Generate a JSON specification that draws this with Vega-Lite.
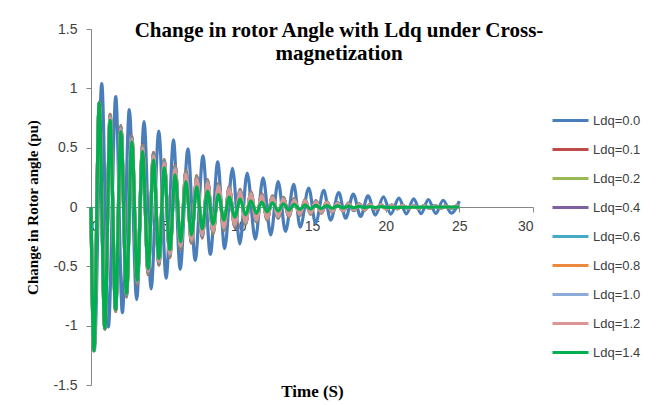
{
"$schema":"https://vega.github.io/schema/vega-lite/v6.json",
"width":442,"height":356,
"autosize":{"type":"none"},
"padding":{"left":91,"top":29,"right":136,"bottom":20},
"background":"white",
"title":{"text":["Change in rotor Angle with Ldq under Cross-","magnetization"],"font":"Liberation Serif","fontSize":21,"fontWeight":"bold","color":"#000000","anchor":"middle","dx":27,"dy":50,"baseline":"top","offset":8,"lineHeight":23},
"config":{"view":{"stroke":null},"axis":{"domainColor":"#868686","tickColor":"#868686","grid":false,"labelFont":"Liberation Sans","labelFontSize":14,"labelColor":"#404040"}},
"data":{"values":[
{"s":"Ldq=0.0","t":0,"v":0},{"s":"Ldq=0.0","t":0.22,"v":-1.21},{"s":"Ldq=0.0","t":0.73,"v":1.04},{"s":"Ldq=0.0","t":1.18,"v":-1.01},{"s":"Ldq=0.0","t":1.68,"v":0.93},{"s":"Ldq=0.0","t":2.13,"v":-0.89},{"s":"Ldq=0.0","t":2.6,"v":0.82},{"s":"Ldq=0.0","t":3.1,"v":-0.78},{"s":"Ldq=0.0","t":3.6,"v":0.72},{"s":"Ldq=0.0","t":4.08,"v":-0.69},{"s":"Ldq=0.0","t":4.6,"v":0.64},{"s":"Ldq=0.0","t":5.1,"v":-0.6},{"s":"Ldq=0.0","t":5.6,"v":0.565},{"s":"Ldq=0.0","t":6.05,"v":-0.525},{"s":"Ldq=0.0","t":6.58,"v":0.49},{"s":"Ldq=0.0","t":7.07,"v":-0.45},{"s":"Ldq=0.0","t":7.6,"v":0.43},{"s":"Ldq=0.0","t":8.1,"v":-0.4},{"s":"Ldq=0.0","t":8.6,"v":0.38},{"s":"Ldq=0.0","t":9.07,"v":-0.35},{"s":"Ldq=0.0","t":9.6,"v":0.325},{"s":"Ldq=0.0","t":10.1,"v":-0.31},{"s":"Ldq=0.0","t":10.6,"v":0.285},{"s":"Ldq=0.0","t":11.15,"v":-0.27},{"s":"Ldq=0.0","t":11.68,"v":0.245},{"s":"Ldq=0.0","t":12.2,"v":-0.235},{"s":"Ldq=0.0","t":12.7,"v":0.215},{"s":"Ldq=0.0","t":13.2,"v":-0.205},{"s":"Ldq=0.0","t":13.76,"v":0.19},{"s":"Ldq=0.0","t":14.2,"v":-0.17},{"s":"Ldq=0.0","t":14.78,"v":0.16},{"s":"Ldq=0.0","t":15.24,"v":-0.135},{"s":"Ldq=0.0","t":15.8,"v":0.14},{"s":"Ldq=0.0","t":16.26,"v":-0.11},{"s":"Ldq=0.0","t":16.82,"v":0.122},{"s":"Ldq=0.0","t":17.28,"v":-0.095},{"s":"Ldq=0.0","t":17.8,"v":0.108},{"s":"Ldq=0.0","t":18.3,"v":-0.08},{"s":"Ldq=0.0","t":18.8,"v":0.095},{"s":"Ldq=0.0","t":19.3,"v":-0.068},{"s":"Ldq=0.0","t":19.85,"v":0.085},{"s":"Ldq=0.0","t":20.35,"v":-0.06},{"s":"Ldq=0.0","t":20.9,"v":0.075},{"s":"Ldq=0.0","t":21.4,"v":-0.058},{"s":"Ldq=0.0","t":21.9,"v":0.068},{"s":"Ldq=0.0","t":22.4,"v":-0.056},{"s":"Ldq=0.0","t":22.9,"v":0.062},{"s":"Ldq=0.0","t":23.4,"v":-0.054},{"s":"Ldq=0.0","t":23.9,"v":0.057},{"s":"Ldq=0.0","t":24.45,"v":-0.052},{"s":"Ldq=0.0","t":25,"v":0.05},
{"s":"Ldq=0.1","t":0,"v":0},{"s":"Ldq=0.1","t":0.2,"v":-1.21},{"s":"Ldq=0.1","t":0.56,"v":0.88},{"s":"Ldq=0.1","t":0.94,"v":-1.03},{"s":"Ldq=0.1","t":1.3,"v":0.78},{"s":"Ldq=0.1","t":1.67,"v":-0.88},{"s":"Ldq=0.1","t":2.03,"v":0.685},{"s":"Ldq=0.1","t":2.41,"v":-0.76},{"s":"Ldq=0.1","t":2.77,"v":0.6},{"s":"Ldq=0.1","t":3.14,"v":-0.655},{"s":"Ldq=0.1","t":3.5,"v":0.525},{"s":"Ldq=0.1","t":3.88,"v":-0.57},{"s":"Ldq=0.1","t":4.24,"v":0.46},{"s":"Ldq=0.1","t":4.61,"v":-0.49},{"s":"Ldq=0.1","t":4.97,"v":0.4},{"s":"Ldq=0.1","t":5.35,"v":-0.425},{"s":"Ldq=0.1","t":5.71,"v":0.35},{"s":"Ldq=0.1","t":6.08,"v":-0.355},{"s":"Ldq=0.1","t":6.44,"v":0.305},{"s":"Ldq=0.1","t":6.82,"v":-0.305},{"s":"Ldq=0.1","t":7.18,"v":0.265},{"s":"Ldq=0.1","t":7.55,"v":-0.262},{"s":"Ldq=0.1","t":7.91,"v":0.23},{"s":"Ldq=0.1","t":8.29,"v":-0.227},{"s":"Ldq=0.1","t":8.65,"v":0.2},{"s":"Ldq=0.1","t":9.02,"v":-0.197},{"s":"Ldq=0.1","t":9.38,"v":0.172},{"s":"Ldq=0.1","t":9.76,"v":-0.17},{"s":"Ldq=0.1","t":10.12,"v":0.148},{"s":"Ldq=0.1","t":10.49,"v":-0.147},{"s":"Ldq=0.1","t":10.85,"v":0.128},{"s":"Ldq=0.1","t":11.23,"v":-0.127},{"s":"Ldq=0.1","t":11.59,"v":0.11},{"s":"Ldq=0.1","t":11.96,"v":-0.11},{"s":"Ldq=0.1","t":12.32,"v":0.095},{"s":"Ldq=0.1","t":12.7,"v":-0.095},{"s":"Ldq=0.1","t":13.06,"v":0.082},{"s":"Ldq=0.1","t":13.43,"v":-0.082},{"s":"Ldq=0.1","t":13.79,"v":0.071},{"s":"Ldq=0.1","t":14.17,"v":-0.071},{"s":"Ldq=0.1","t":14.53,"v":0.062},{"s":"Ldq=0.1","t":14.9,"v":-0.061},{"s":"Ldq=0.1","t":15.26,"v":0.053},{"s":"Ldq=0.1","t":15.64,"v":-0.052},{"s":"Ldq=0.1","t":16.0,"v":0.045},{"s":"Ldq=0.1","t":16.37,"v":-0.044},{"s":"Ldq=0.1","t":16.73,"v":0.038},{"s":"Ldq=0.1","t":17.11,"v":-0.037},{"s":"Ldq=0.1","t":17.47,"v":0.032},{"s":"Ldq=0.1","t":17.84,"v":-0.031},{"s":"Ldq=0.1","t":18.2,"v":0.027},{"s":"Ldq=0.1","t":18.58,"v":-0.026},{"s":"Ldq=0.1","t":18.94,"v":0.023},{"s":"Ldq=0.1","t":19.31,"v":-0.022},{"s":"Ldq=0.1","t":19.67,"v":0.02},{"s":"Ldq=0.1","t":20.05,"v":-0.019},{"s":"Ldq=0.1","t":20.41,"v":0.017},{"s":"Ldq=0.1","t":20.78,"v":-0.016},{"s":"Ldq=0.1","t":21.14,"v":0.015},{"s":"Ldq=0.1","t":21.52,"v":-0.014},{"s":"Ldq=0.1","t":21.88,"v":0.013},{"s":"Ldq=0.1","t":22.25,"v":-0.012},{"s":"Ldq=0.1","t":22.61,"v":0.011},{"s":"Ldq=0.1","t":22.99,"v":-0.011},{"s":"Ldq=0.1","t":23.35,"v":0.01},{"s":"Ldq=0.1","t":23.72,"v":-0.01},{"s":"Ldq=0.1","t":24.08,"v":0.009},{"s":"Ldq=0.1","t":24.46,"v":-0.009},{"s":"Ldq=0.1","t":24.82,"v":0.008},{"s":"Ldq=0.1","t":25,"v":0.004},
{"s":"Ldq=0.2","t":0,"v":0},{"s":"Ldq=0.2","t":0.2,"v":-1.21},{"s":"Ldq=0.2","t":0.56,"v":0.878},{"s":"Ldq=0.2","t":0.94,"v":-1.027},{"s":"Ldq=0.2","t":1.3,"v":0.774},{"s":"Ldq=0.2","t":1.67,"v":-0.873},{"s":"Ldq=0.2","t":2.03,"v":0.678},{"s":"Ldq=0.2","t":2.41,"v":-0.753},{"s":"Ldq=0.2","t":2.77,"v":0.593},{"s":"Ldq=0.2","t":3.14,"v":-0.648},{"s":"Ldq=0.2","t":3.5,"v":0.518},{"s":"Ldq=0.2","t":3.88,"v":-0.563},{"s":"Ldq=0.2","t":4.24,"v":0.453},{"s":"Ldq=0.2","t":4.61,"v":-0.483},{"s":"Ldq=0.2","t":4.97,"v":0.393},{"s":"Ldq=0.2","t":5.35,"v":-0.418},{"s":"Ldq=0.2","t":5.71,"v":0.343},{"s":"Ldq=0.2","t":6.08,"v":-0.349},{"s":"Ldq=0.2","t":6.44,"v":0.299},{"s":"Ldq=0.2","t":6.82,"v":-0.299},{"s":"Ldq=0.2","t":7.18,"v":0.259},{"s":"Ldq=0.2","t":7.55,"v":-0.256},{"s":"Ldq=0.2","t":7.91,"v":0.225},{"s":"Ldq=0.2","t":8.29,"v":-0.222},{"s":"Ldq=0.2","t":8.65,"v":0.195},{"s":"Ldq=0.2","t":9.02,"v":-0.192},{"s":"Ldq=0.2","t":9.38,"v":0.167},{"s":"Ldq=0.2","t":9.76,"v":-0.165},{"s":"Ldq=0.2","t":10.12,"v":0.144},{"s":"Ldq=0.2","t":10.49,"v":-0.143},{"s":"Ldq=0.2","t":10.85,"v":0.124},{"s":"Ldq=0.2","t":11.23,"v":-0.123},{"s":"Ldq=0.2","t":11.59,"v":0.106},{"s":"Ldq=0.2","t":11.96,"v":-0.106},{"s":"Ldq=0.2","t":12.32,"v":0.092},{"s":"Ldq=0.2","t":12.7,"v":-0.092},{"s":"Ldq=0.2","t":13.06,"v":0.079},{"s":"Ldq=0.2","t":13.43,"v":-0.079},{"s":"Ldq=0.2","t":13.79,"v":0.068},{"s":"Ldq=0.2","t":14.17,"v":-0.068},{"s":"Ldq=0.2","t":14.53,"v":0.06},{"s":"Ldq=0.2","t":14.9,"v":-0.059},{"s":"Ldq=0.2","t":15.26,"v":0.051},{"s":"Ldq=0.2","t":15.64,"v":-0.05},{"s":"Ldq=0.2","t":16.0,"v":0.043},{"s":"Ldq=0.2","t":16.37,"v":-0.042},{"s":"Ldq=0.2","t":16.73,"v":0.036},{"s":"Ldq=0.2","t":17.11,"v":-0.035},{"s":"Ldq=0.2","t":17.47,"v":0.03},{"s":"Ldq=0.2","t":17.84,"v":-0.029},{"s":"Ldq=0.2","t":18.2,"v":0.026},{"s":"Ldq=0.2","t":18.58,"v":-0.025},{"s":"Ldq=0.2","t":18.94,"v":0.022},{"s":"Ldq=0.2","t":19.31,"v":-0.021},{"s":"Ldq=0.2","t":19.67,"v":0.019},{"s":"Ldq=0.2","t":20.05,"v":-0.018},{"s":"Ldq=0.2","t":20.41,"v":0.016},{"s":"Ldq=0.2","t":20.78,"v":-0.015},{"s":"Ldq=0.2","t":21.14,"v":0.014},{"s":"Ldq=0.2","t":21.52,"v":-0.013},{"s":"Ldq=0.2","t":21.88,"v":0.012},{"s":"Ldq=0.2","t":22.25,"v":-0.011},{"s":"Ldq=0.2","t":22.61,"v":0.01},{"s":"Ldq=0.2","t":22.99,"v":-0.01},{"s":"Ldq=0.2","t":23.35,"v":0.009},{"s":"Ldq=0.2","t":23.72,"v":-0.009},{"s":"Ldq=0.2","t":24.08,"v":0.008},{"s":"Ldq=0.2","t":24.46,"v":-0.008},{"s":"Ldq=0.2","t":24.82,"v":0.008},{"s":"Ldq=0.2","t":25,"v":0.004},
{"s":"Ldq=0.4","t":0,"v":0},{"s":"Ldq=0.4","t":0.2,"v":-1.21},{"s":"Ldq=0.4","t":0.56,"v":0.877},{"s":"Ldq=0.4","t":0.94,"v":-1.023},{"s":"Ldq=0.4","t":1.3,"v":0.768},{"s":"Ldq=0.4","t":1.67,"v":-0.867},{"s":"Ldq=0.4","t":2.03,"v":0.672},{"s":"Ldq=0.4","t":2.41,"v":-0.747},{"s":"Ldq=0.4","t":2.77,"v":0.587},{"s":"Ldq=0.4","t":3.14,"v":-0.642},{"s":"Ldq=0.4","t":3.5,"v":0.512},{"s":"Ldq=0.4","t":3.88,"v":-0.557},{"s":"Ldq=0.4","t":4.24,"v":0.447},{"s":"Ldq=0.4","t":4.61,"v":-0.477},{"s":"Ldq=0.4","t":4.97,"v":0.387},{"s":"Ldq=0.4","t":5.35,"v":-0.412},{"s":"Ldq=0.4","t":5.71,"v":0.337},{"s":"Ldq=0.4","t":6.08,"v":-0.342},{"s":"Ldq=0.4","t":6.44,"v":0.293},{"s":"Ldq=0.4","t":6.82,"v":-0.293},{"s":"Ldq=0.4","t":7.18,"v":0.253},{"s":"Ldq=0.4","t":7.55,"v":-0.251},{"s":"Ldq=0.4","t":7.91,"v":0.219},{"s":"Ldq=0.4","t":8.29,"v":-0.216},{"s":"Ldq=0.4","t":8.65,"v":0.19},{"s":"Ldq=0.4","t":9.02,"v":-0.187},{"s":"Ldq=0.4","t":9.38,"v":0.162},{"s":"Ldq=0.4","t":9.76,"v":-0.161},{"s":"Ldq=0.4","t":10.12,"v":0.139},{"s":"Ldq=0.4","t":10.49,"v":-0.138},{"s":"Ldq=0.4","t":10.85,"v":0.12},{"s":"Ldq=0.4","t":11.23,"v":-0.119},{"s":"Ldq=0.4","t":11.59,"v":0.102},{"s":"Ldq=0.4","t":11.96,"v":-0.103},{"s":"Ldq=0.4","t":12.32,"v":0.088},{"s":"Ldq=0.4","t":12.7,"v":-0.088},{"s":"Ldq=0.4","t":13.06,"v":0.076},{"s":"Ldq=0.4","t":13.43,"v":-0.076},{"s":"Ldq=0.4","t":13.79,"v":0.065},{"s":"Ldq=0.4","t":14.17,"v":-0.066},{"s":"Ldq=0.4","t":14.53,"v":0.057},{"s":"Ldq=0.4","t":14.9,"v":-0.056},{"s":"Ldq=0.4","t":15.26,"v":0.049},{"s":"Ldq=0.4","t":15.64,"v":-0.048},{"s":"Ldq=0.4","t":16.0,"v":0.041},{"s":"Ldq=0.4","t":16.37,"v":-0.041},{"s":"Ldq=0.4","t":16.73,"v":0.035},{"s":"Ldq=0.4","t":17.11,"v":-0.034},{"s":"Ldq=0.4","t":17.47,"v":0.029},{"s":"Ldq=0.4","t":17.84,"v":-0.028},{"s":"Ldq=0.4","t":18.2,"v":0.024},{"s":"Ldq=0.4","t":18.58,"v":-0.023},{"s":"Ldq=0.4","t":18.94,"v":0.02},{"s":"Ldq=0.4","t":19.31,"v":-0.019},{"s":"Ldq=0.4","t":19.67,"v":0.018},{"s":"Ldq=0.4","t":20.05,"v":-0.017},{"s":"Ldq=0.4","t":20.41,"v":0.015},{"s":"Ldq=0.4","t":20.78,"v":-0.014},{"s":"Ldq=0.4","t":21.14,"v":0.013},{"s":"Ldq=0.4","t":21.52,"v":-0.012},{"s":"Ldq=0.4","t":21.88,"v":0.011},{"s":"Ldq=0.4","t":22.25,"v":-0.01},{"s":"Ldq=0.4","t":22.61,"v":0.009},{"s":"Ldq=0.4","t":22.99,"v":-0.009},{"s":"Ldq=0.4","t":23.35,"v":0.009},{"s":"Ldq=0.4","t":23.72,"v":-0.009},{"s":"Ldq=0.4","t":24.08,"v":0.008},{"s":"Ldq=0.4","t":24.46,"v":-0.008},{"s":"Ldq=0.4","t":24.82,"v":0.007},{"s":"Ldq=0.4","t":25,"v":0.004},
{"s":"Ldq=0.6","t":0,"v":0},{"s":"Ldq=0.6","t":0.2,"v":-1.21},{"s":"Ldq=0.6","t":0.56,"v":0.875},{"s":"Ldq=0.6","t":0.94,"v":-1.02},{"s":"Ldq=0.6","t":1.3,"v":0.763},{"s":"Ldq=0.6","t":1.67,"v":-0.86},{"s":"Ldq=0.6","t":2.03,"v":0.665},{"s":"Ldq=0.6","t":2.41,"v":-0.74},{"s":"Ldq=0.6","t":2.77,"v":0.58},{"s":"Ldq=0.6","t":3.14,"v":-0.635},{"s":"Ldq=0.6","t":3.5,"v":0.505},{"s":"Ldq=0.6","t":3.88,"v":-0.55},{"s":"Ldq=0.6","t":4.24,"v":0.44},{"s":"Ldq=0.6","t":4.61,"v":-0.47},{"s":"Ldq=0.6","t":4.97,"v":0.38},{"s":"Ldq=0.6","t":5.35,"v":-0.405},{"s":"Ldq=0.6","t":5.71,"v":0.33},{"s":"Ldq=0.6","t":6.08,"v":-0.336},{"s":"Ldq=0.6","t":6.44,"v":0.286},{"s":"Ldq=0.6","t":6.82,"v":-0.287},{"s":"Ldq=0.6","t":7.18,"v":0.248},{"s":"Ldq=0.6","t":7.55,"v":-0.245},{"s":"Ldq=0.6","t":7.91,"v":0.214},{"s":"Ldq=0.6","t":8.29,"v":-0.211},{"s":"Ldq=0.6","t":8.65,"v":0.185},{"s":"Ldq=0.6","t":9.02,"v":-0.182},{"s":"Ldq=0.6","t":9.38,"v":0.158},{"s":"Ldq=0.6","t":9.76,"v":-0.156},{"s":"Ldq=0.6","t":10.12,"v":0.135},{"s":"Ldq=0.6","t":10.49,"v":-0.134},{"s":"Ldq=0.6","t":10.85,"v":0.116},{"s":"Ldq=0.6","t":11.23,"v":-0.115},{"s":"Ldq=0.6","t":11.59,"v":0.099},{"s":"Ldq=0.6","t":11.96,"v":-0.099},{"s":"Ldq=0.6","t":12.32,"v":0.085},{"s":"Ldq=0.6","t":12.7,"v":-0.085},{"s":"Ldq=0.6","t":13.06,"v":0.072},{"s":"Ldq=0.6","t":13.43,"v":-0.073},{"s":"Ldq=0.6","t":13.79,"v":0.063},{"s":"Ldq=0.6","t":14.17,"v":-0.063},{"s":"Ldq=0.6","t":14.53,"v":0.055},{"s":"Ldq=0.6","t":14.9,"v":-0.054},{"s":"Ldq=0.6","t":15.26,"v":0.047},{"s":"Ldq=0.6","t":15.64,"v":-0.046},{"s":"Ldq=0.6","t":16.0,"v":0.04},{"s":"Ldq=0.6","t":16.37,"v":-0.039},{"s":"Ldq=0.6","t":16.73,"v":0.033},{"s":"Ldq=0.6","t":17.11,"v":-0.032},{"s":"Ldq=0.6","t":17.47,"v":0.027},{"s":"Ldq=0.6","t":17.84,"v":-0.026},{"s":"Ldq=0.6","t":18.2,"v":0.023},{"s":"Ldq=0.6","t":18.58,"v":-0.022},{"s":"Ldq=0.6","t":18.94,"v":0.019},{"s":"Ldq=0.6","t":19.31,"v":-0.018},{"s":"Ldq=0.6","t":19.67,"v":0.017},{"s":"Ldq=0.6","t":20.05,"v":-0.016},{"s":"Ldq=0.6","t":20.41,"v":0.014},{"s":"Ldq=0.6","t":20.78,"v":-0.013},{"s":"Ldq=0.6","t":21.14,"v":0.012},{"s":"Ldq=0.6","t":21.52,"v":-0.011},{"s":"Ldq=0.6","t":21.88,"v":0.011},{"s":"Ldq=0.6","t":22.25,"v":-0.01},{"s":"Ldq=0.6","t":22.61,"v":0.009},{"s":"Ldq=0.6","t":22.99,"v":-0.009},{"s":"Ldq=0.6","t":23.35,"v":0.008},{"s":"Ldq=0.6","t":23.72,"v":-0.008},{"s":"Ldq=0.6","t":24.08,"v":0.007},{"s":"Ldq=0.6","t":24.46,"v":-0.007},{"s":"Ldq=0.6","t":24.82,"v":0.007},{"s":"Ldq=0.6","t":25,"v":0.003},
{"s":"Ldq=0.8","t":0,"v":0},{"s":"Ldq=0.8","t":0.2,"v":-1.21},{"s":"Ldq=0.8","t":0.56,"v":0.873},{"s":"Ldq=0.8","t":0.94,"v":-1.017},{"s":"Ldq=0.8","t":1.3,"v":0.757},{"s":"Ldq=0.8","t":1.67,"v":-0.853},{"s":"Ldq=0.8","t":2.03,"v":0.658},{"s":"Ldq=0.8","t":2.41,"v":-0.733},{"s":"Ldq=0.8","t":2.77,"v":0.573},{"s":"Ldq=0.8","t":3.14,"v":-0.628},{"s":"Ldq=0.8","t":3.5,"v":0.498},{"s":"Ldq=0.8","t":3.88,"v":-0.543},{"s":"Ldq=0.8","t":4.24,"v":0.433},{"s":"Ldq=0.8","t":4.61,"v":-0.463},{"s":"Ldq=0.8","t":4.97,"v":0.373},{"s":"Ldq=0.8","t":5.35,"v":-0.398},{"s":"Ldq=0.8","t":5.71,"v":0.323},{"s":"Ldq=0.8","t":6.08,"v":-0.33},{"s":"Ldq=0.8","t":6.44,"v":0.28},{"s":"Ldq=0.8","t":6.82,"v":-0.281},{"s":"Ldq=0.8","t":7.18,"v":0.242},{"s":"Ldq=0.8","t":7.55,"v":-0.239},{"s":"Ldq=0.8","t":7.91,"v":0.208},{"s":"Ldq=0.8","t":8.29,"v":-0.206},{"s":"Ldq=0.8","t":8.65,"v":0.179},{"s":"Ldq=0.8","t":9.02,"v":-0.177},{"s":"Ldq=0.8","t":9.38,"v":0.153},{"s":"Ldq=0.8","t":9.76,"v":-0.151},{"s":"Ldq=0.8","t":10.12,"v":0.13},{"s":"Ldq=0.8","t":10.49,"v":-0.13},{"s":"Ldq=0.8","t":10.85,"v":0.111},{"s":"Ldq=0.8","t":11.23,"v":-0.111},{"s":"Ldq=0.8","t":11.59,"v":0.095},{"s":"Ldq=0.8","t":11.96,"v":-0.095},{"s":"Ldq=0.8","t":12.32,"v":0.081},{"s":"Ldq=0.8","t":12.7,"v":-0.082},{"s":"Ldq=0.8","t":13.06,"v":0.069},{"s":"Ldq=0.8","t":13.43,"v":-0.07},{"s":"Ldq=0.8","t":13.79,"v":0.06},{"s":"Ldq=0.8","t":14.17,"v":-0.06},{"s":"Ldq=0.8","t":14.53,"v":0.052},{"s":"Ldq=0.8","t":14.9,"v":-0.052},{"s":"Ldq=0.8","t":15.26,"v":0.044},{"s":"Ldq=0.8","t":15.64,"v":-0.044},{"s":"Ldq=0.8","t":16.0,"v":0.038},{"s":"Ldq=0.8","t":16.37,"v":-0.037},{"s":"Ldq=0.8","t":16.73,"v":0.031},{"s":"Ldq=0.8","t":17.11,"v":-0.03},{"s":"Ldq=0.8","t":17.47,"v":0.025},{"s":"Ldq=0.8","t":17.84,"v":-0.024},{"s":"Ldq=0.8","t":18.2,"v":0.022},{"s":"Ldq=0.8","t":18.58,"v":-0.021},{"s":"Ldq=0.8","t":18.94,"v":0.018},{"s":"Ldq=0.8","t":19.31,"v":-0.017},{"s":"Ldq=0.8","t":19.67,"v":0.016},{"s":"Ldq=0.8","t":20.05,"v":-0.015},{"s":"Ldq=0.8","t":20.41,"v":0.013},{"s":"Ldq=0.8","t":20.78,"v":-0.012},{"s":"Ldq=0.8","t":21.14,"v":0.011},{"s":"Ldq=0.8","t":21.52,"v":-0.01},{"s":"Ldq=0.8","t":21.88,"v":0.01},{"s":"Ldq=0.8","t":22.25,"v":-0.009},{"s":"Ldq=0.8","t":22.61,"v":0.008},{"s":"Ldq=0.8","t":22.99,"v":-0.008},{"s":"Ldq=0.8","t":23.35,"v":0.007},{"s":"Ldq=0.8","t":23.72,"v":-0.007},{"s":"Ldq=0.8","t":24.08,"v":0.006},{"s":"Ldq=0.8","t":24.46,"v":-0.006},{"s":"Ldq=0.8","t":24.82,"v":0.007},{"s":"Ldq=0.8","t":25,"v":0.003},
{"s":"Ldq=1.0","t":0,"v":0},{"s":"Ldq=1.0","t":0.2,"v":-1.21},{"s":"Ldq=1.0","t":0.56,"v":0.872},{"s":"Ldq=1.0","t":0.94,"v":-1.013},{"s":"Ldq=1.0","t":1.3,"v":0.751},{"s":"Ldq=1.0","t":1.67,"v":-0.847},{"s":"Ldq=1.0","t":2.03,"v":0.652},{"s":"Ldq=1.0","t":2.41,"v":-0.727},{"s":"Ldq=1.0","t":2.77,"v":0.567},{"s":"Ldq=1.0","t":3.14,"v":-0.622},{"s":"Ldq=1.0","t":3.5,"v":0.492},{"s":"Ldq=1.0","t":3.88,"v":-0.537},{"s":"Ldq=1.0","t":4.24,"v":0.427},{"s":"Ldq=1.0","t":4.61,"v":-0.457},{"s":"Ldq=1.0","t":4.97,"v":0.367},{"s":"Ldq=1.0","t":5.35,"v":-0.392},{"s":"Ldq=1.0","t":5.71,"v":0.317},{"s":"Ldq=1.0","t":6.08,"v":-0.323},{"s":"Ldq=1.0","t":6.44,"v":0.274},{"s":"Ldq=1.0","t":6.82,"v":-0.275},{"s":"Ldq=1.0","t":7.18,"v":0.236},{"s":"Ldq=1.0","t":7.55,"v":-0.234},{"s":"Ldq=1.0","t":7.91,"v":0.203},{"s":"Ldq=1.0","t":8.29,"v":-0.2},{"s":"Ldq=1.0","t":8.65,"v":0.174},{"s":"Ldq=1.0","t":9.02,"v":-0.172},{"s":"Ldq=1.0","t":9.38,"v":0.148},{"s":"Ldq=1.0","t":9.76,"v":-0.147},{"s":"Ldq=1.0","t":10.12,"v":0.126},{"s":"Ldq=1.0","t":10.49,"v":-0.125},{"s":"Ldq=1.0","t":10.85,"v":0.107},{"s":"Ldq=1.0","t":11.23,"v":-0.107},{"s":"Ldq=1.0","t":11.59,"v":0.091},{"s":"Ldq=1.0","t":11.96,"v":-0.092},{"s":"Ldq=1.0","t":12.32,"v":0.078},{"s":"Ldq=1.0","t":12.7,"v":-0.078},{"s":"Ldq=1.0","t":13.06,"v":0.066},{"s":"Ldq=1.0","t":13.43,"v":-0.067},{"s":"Ldq=1.0","t":13.79,"v":0.057},{"s":"Ldq=1.0","t":14.17,"v":-0.058},{"s":"Ldq=1.0","t":14.53,"v":0.05},{"s":"Ldq=1.0","t":14.9,"v":-0.049},{"s":"Ldq=1.0","t":15.26,"v":0.042},{"s":"Ldq=1.0","t":15.64,"v":-0.042},{"s":"Ldq=1.0","t":16.0,"v":0.036},{"s":"Ldq=1.0","t":16.37,"v":-0.036},{"s":"Ldq=1.0","t":16.73,"v":0.03},{"s":"Ldq=1.0","t":17.11,"v":-0.029},{"s":"Ldq=1.0","t":17.47,"v":0.024},{"s":"Ldq=1.0","t":17.84,"v":-0.023},{"s":"Ldq=1.0","t":18.2,"v":0.02},{"s":"Ldq=1.0","t":18.58,"v":-0.019},{"s":"Ldq=1.0","t":18.94,"v":0.016},{"s":"Ldq=1.0","t":19.31,"v":-0.015},{"s":"Ldq=1.0","t":19.67,"v":0.015},{"s":"Ldq=1.0","t":20.05,"v":-0.014},{"s":"Ldq=1.0","t":20.41,"v":0.012},{"s":"Ldq=1.0","t":20.78,"v":-0.011},{"s":"Ldq=1.0","t":21.14,"v":0.01},{"s":"Ldq=1.0","t":21.52,"v":-0.009},{"s":"Ldq=1.0","t":21.88,"v":0.009},{"s":"Ldq=1.0","t":22.25,"v":-0.008},{"s":"Ldq=1.0","t":22.61,"v":0.007},{"s":"Ldq=1.0","t":22.99,"v":-0.007},{"s":"Ldq=1.0","t":23.35,"v":0.007},{"s":"Ldq=1.0","t":23.72,"v":-0.007},{"s":"Ldq=1.0","t":24.08,"v":0.006},{"s":"Ldq=1.0","t":24.46,"v":-0.006},{"s":"Ldq=1.0","t":24.82,"v":0.006},{"s":"Ldq=1.0","t":25,"v":0.003},
{"s":"Ldq=1.2","t":0,"v":0},{"s":"Ldq=1.2","t":0.2,"v":-1.21},{"s":"Ldq=1.2","t":0.56,"v":0.87},{"s":"Ldq=1.2","t":0.94,"v":-1.01},{"s":"Ldq=1.2","t":1.3,"v":0.745},{"s":"Ldq=1.2","t":1.67,"v":-0.84},{"s":"Ldq=1.2","t":2.03,"v":0.645},{"s":"Ldq=1.2","t":2.41,"v":-0.72},{"s":"Ldq=1.2","t":2.77,"v":0.56},{"s":"Ldq=1.2","t":3.14,"v":-0.615},{"s":"Ldq=1.2","t":3.5,"v":0.485},{"s":"Ldq=1.2","t":3.88,"v":-0.53},{"s":"Ldq=1.2","t":4.24,"v":0.42},{"s":"Ldq=1.2","t":4.61,"v":-0.45},{"s":"Ldq=1.2","t":4.97,"v":0.36},{"s":"Ldq=1.2","t":5.35,"v":-0.385},{"s":"Ldq=1.2","t":5.71,"v":0.31},{"s":"Ldq=1.2","t":6.08,"v":-0.317},{"s":"Ldq=1.2","t":6.44,"v":0.268},{"s":"Ldq=1.2","t":6.82,"v":-0.269},{"s":"Ldq=1.2","t":7.18,"v":0.23},{"s":"Ldq=1.2","t":7.55,"v":-0.228},{"s":"Ldq=1.2","t":7.91,"v":0.197},{"s":"Ldq=1.2","t":8.29,"v":-0.195},{"s":"Ldq=1.2","t":8.65,"v":0.169},{"s":"Ldq=1.2","t":9.02,"v":-0.167},{"s":"Ldq=1.2","t":9.38,"v":0.143},{"s":"Ldq=1.2","t":9.76,"v":-0.142},{"s":"Ldq=1.2","t":10.12,"v":0.121},{"s":"Ldq=1.2","t":10.49,"v":-0.121},{"s":"Ldq=1.2","t":10.85,"v":0.103},{"s":"Ldq=1.2","t":11.23,"v":-0.103},{"s":"Ldq=1.2","t":11.59,"v":0.087},{"s":"Ldq=1.2","t":11.96,"v":-0.088},{"s":"Ldq=1.2","t":12.32,"v":0.074},{"s":"Ldq=1.2","t":12.7,"v":-0.075},{"s":"Ldq=1.2","t":13.06,"v":0.063},{"s":"Ldq=1.2","t":13.43,"v":-0.064},{"s":"Ldq=1.2","t":13.79,"v":0.054},{"s":"Ldq=1.2","t":14.17,"v":-0.055},{"s":"Ldq=1.2","t":14.53,"v":0.047},{"s":"Ldq=1.2","t":14.9,"v":-0.047},{"s":"Ldq=1.2","t":15.26,"v":0.04},{"s":"Ldq=1.2","t":15.64,"v":-0.04},{"s":"Ldq=1.2","t":16.0,"v":0.034},{"s":"Ldq=1.2","t":16.37,"v":-0.034},{"s":"Ldq=1.2","t":16.73,"v":0.028},{"s":"Ldq=1.2","t":17.11,"v":-0.027},{"s":"Ldq=1.2","t":17.47,"v":0.022},{"s":"Ldq=1.2","t":17.84,"v":-0.021},{"s":"Ldq=1.2","t":18.2,"v":0.019},{"s":"Ldq=1.2","t":18.58,"v":-0.018},{"s":"Ldq=1.2","t":18.94,"v":0.015},{"s":"Ldq=1.2","t":19.31,"v":-0.014},{"s":"Ldq=1.2","t":19.67,"v":0.014},{"s":"Ldq=1.2","t":20.05,"v":-0.013},{"s":"Ldq=1.2","t":20.41,"v":0.011},{"s":"Ldq=1.2","t":20.78,"v":-0.01},{"s":"Ldq=1.2","t":21.14,"v":0.009},{"s":"Ldq=1.2","t":21.52,"v":-0.008},{"s":"Ldq=1.2","t":21.88,"v":0.008},{"s":"Ldq=1.2","t":22.25,"v":-0.007},{"s":"Ldq=1.2","t":22.61,"v":0.006},{"s":"Ldq=1.2","t":22.99,"v":-0.006},{"s":"Ldq=1.2","t":23.35,"v":0.006},{"s":"Ldq=1.2","t":23.72,"v":-0.006},{"s":"Ldq=1.2","t":24.08,"v":0.005},{"s":"Ldq=1.2","t":24.46,"v":-0.005},{"s":"Ldq=1.2","t":24.82,"v":0.005},{"s":"Ldq=1.2","t":25,"v":0.003},
{"s":"Ldq=1.4","t":0,"v":0},{"s":"Ldq=1.4","t":0.2,"v":-1.21},{"s":"Ldq=1.4","t":0.56,"v":0.875},{"s":"Ldq=1.4","t":0.94,"v":-1.02},{"s":"Ldq=1.4","t":1.3,"v":0.73},{"s":"Ldq=1.4","t":1.67,"v":-0.86},{"s":"Ldq=1.4","t":2.03,"v":0.635},{"s":"Ldq=1.4","t":2.41,"v":-0.73},{"s":"Ldq=1.4","t":2.77,"v":0.55},{"s":"Ldq=1.4","t":3.14,"v":-0.62},{"s":"Ldq=1.4","t":3.5,"v":0.47},{"s":"Ldq=1.4","t":3.88,"v":-0.52},{"s":"Ldq=1.4","t":4.24,"v":0.395},{"s":"Ldq=1.4","t":4.61,"v":-0.435},{"s":"Ldq=1.4","t":4.97,"v":0.33},{"s":"Ldq=1.4","t":5.35,"v":-0.36},{"s":"Ldq=1.4","t":5.71,"v":0.27},{"s":"Ldq=1.4","t":6.08,"v":-0.295},{"s":"Ldq=1.4","t":6.44,"v":0.215},{"s":"Ldq=1.4","t":6.82,"v":-0.235},{"s":"Ldq=1.4","t":7.18,"v":0.17},{"s":"Ldq=1.4","t":7.55,"v":-0.185},{"s":"Ldq=1.4","t":7.91,"v":0.135},{"s":"Ldq=1.4","t":8.29,"v":-0.145},{"s":"Ldq=1.4","t":8.65,"v":0.105},{"s":"Ldq=1.4","t":9.02,"v":-0.11},{"s":"Ldq=1.4","t":9.38,"v":0.083},{"s":"Ldq=1.4","t":9.76,"v":-0.085},{"s":"Ldq=1.4","t":10.12,"v":0.066},{"s":"Ldq=1.4","t":10.49,"v":-0.066},{"s":"Ldq=1.4","t":10.85,"v":0.052},{"s":"Ldq=1.4","t":11.23,"v":-0.052},{"s":"Ldq=1.4","t":11.59,"v":0.042},{"s":"Ldq=1.4","t":11.96,"v":-0.041},{"s":"Ldq=1.4","t":12.32,"v":0.034},{"s":"Ldq=1.4","t":12.7,"v":-0.033},{"s":"Ldq=1.4","t":13.06,"v":0.027},{"s":"Ldq=1.4","t":13.43,"v":-0.026},{"s":"Ldq=1.4","t":13.79,"v":0.022},{"s":"Ldq=1.4","t":14.17,"v":-0.021},{"s":"Ldq=1.4","t":14.53,"v":0.018},{"s":"Ldq=1.4","t":14.9,"v":-0.017},{"s":"Ldq=1.4","t":15.26,"v":0.014},{"s":"Ldq=1.4","t":15.64,"v":-0.013},{"s":"Ldq=1.4","t":16.0,"v":0.011},{"s":"Ldq=1.4","t":16.37,"v":-0.01},{"s":"Ldq=1.4","t":16.73,"v":0.009},{"s":"Ldq=1.4","t":17.11,"v":-0.008},{"s":"Ldq=1.4","t":17.47,"v":0.007},{"s":"Ldq=1.4","t":17.84,"v":-0.006},{"s":"Ldq=1.4","t":18.2,"v":0.005},{"s":"Ldq=1.4","t":18.58,"v":-0.005},{"s":"Ldq=1.4","t":18.94,"v":0.004},{"s":"Ldq=1.4","t":19.31,"v":-0.004},{"s":"Ldq=1.4","t":19.67,"v":0.003},{"s":"Ldq=1.4","t":20.05,"v":-0.003},{"s":"Ldq=1.4","t":25,"v":0}
]},
"mark":{"type":"line","interpolate":"monotone","strokeWidth":3.2},
"encoding":{
"x":{"field":"t","type":"quantitative","scale":{"domain":[0,30],"nice":false,"zero":false},"axis":{"values":[0,5,10,15,20,25,30],"offset":-178,"tickSize":5,"labelPadding":7,"title":"Time (S)","titleFont":"Liberation Serif","titleFontSize":17,"titleFontWeight":"bold","titleColor":"#000000","titleBaseline":"alphabetic","titleY":189}},
"y":{"field":"v","type":"quantitative","scale":{"domain":[-1.5,1.5],"nice":false},"axis":{"values":[-1.5,-1,-0.5,0,0.5,1,1.5],"labelExpr":"'' + datum.value","tickSize":5,"labelPadding":9,"title":"Change in Rotor angle (pu)","titleFont":"Liberation Serif","titleFontSize":15,"titleFontWeight":"bold","titleColor":"#000000","titlePadding":12}},
"color":{"field":"s","type":"nominal","scale":{"domain":["Ldq=0.0","Ldq=0.1","Ldq=0.2","Ldq=0.4","Ldq=0.6","Ldq=0.8","Ldq=1.0","Ldq=1.2","Ldq=1.4"],"range":["#4A7EBB","#BE4B48","#98B954","#7D60A0","#46AAC5","#EB8A3E","#8EAADB","#D99694","#00B050"]},"legend":{"title":null,"orient":"none","legendX":472,"legendY":84,"padding":0,"symbolType":"M-3,0H3","symbolSize":144,"symbolStrokeWidth":3,"labelFont":"Liberation Sans","labelFontSize":13,"labelColor":"#404040","labelOffset":15,"rowPadding":14,"labelLimit":100}}
}
}
